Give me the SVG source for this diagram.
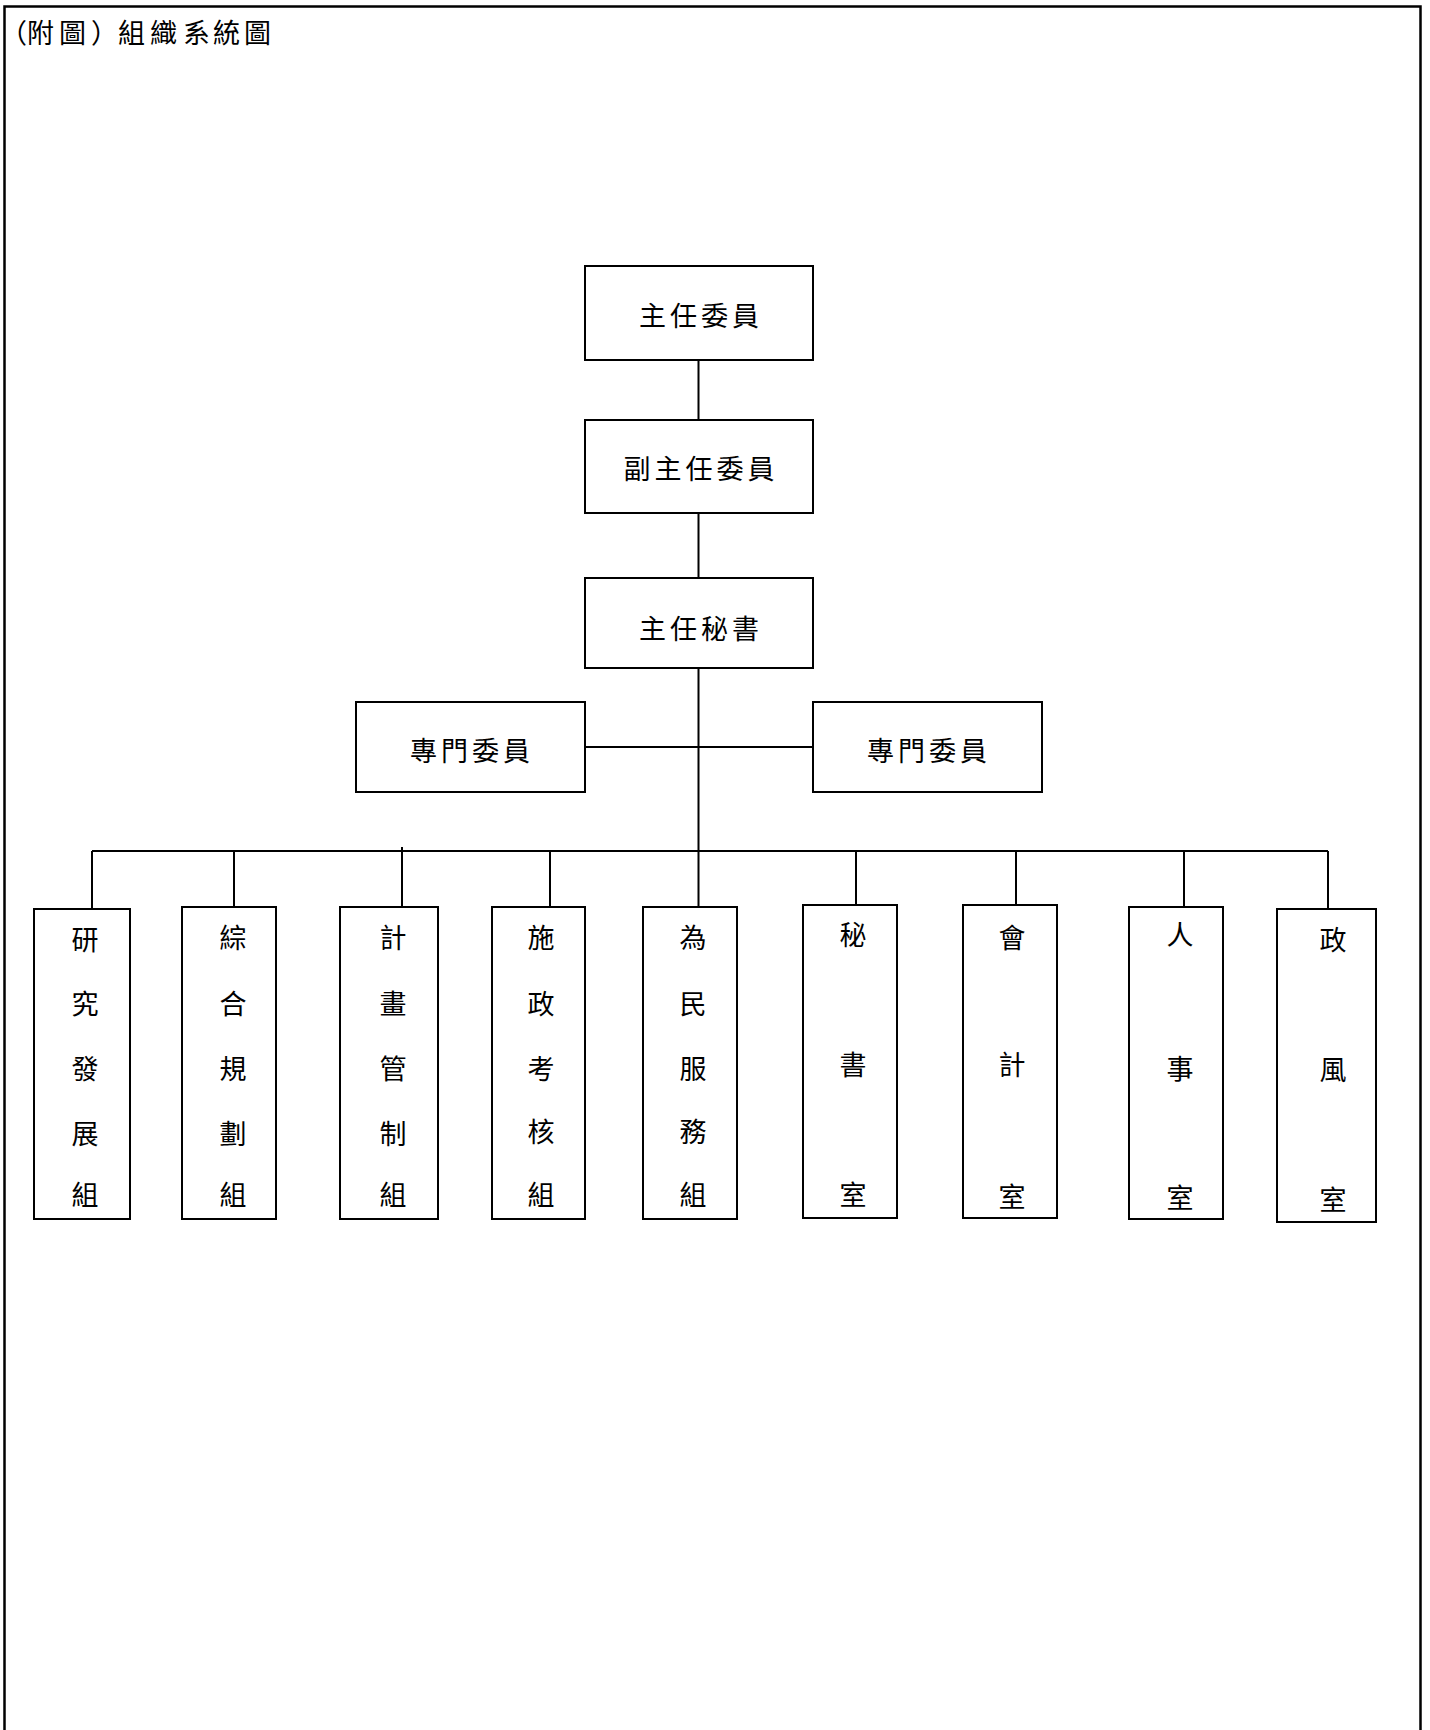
<svg xmlns="http://www.w3.org/2000/svg" width="1430" height="1730" viewBox="0 0 1430 1730">
<style>
.box{fill:#fff;stroke:#000;stroke-width:2}
.ln{fill:none;stroke:#000;stroke-width:2}
text{font-family:"Noto Sans CJK TC","Noto Sans CJK SC",sans-serif;font-size:27px;fill:#000;text-anchor:middle;dominant-baseline:central}
.h{letter-spacing:4px}
.t{text-anchor:start}
</style>
<rect x="0" y="0" width="1430" height="1730" fill="#fff"/>
<path class="ln" d="M4.5,1730 V6.5 H1420.5 V1730" style="stroke-width:2.5"/>
<text class="t" x="0 27 59 91 118 150 183 213 244" y="31">（附圖）組織系統圖</text>
<g id="connectors">
<path class="ln" d="M698.5,360 V420 M698.5,513 V578 M698.5,668 V907 M585,747 H813 M92,851 H1328"/>
<path class="ln" d="M92,851 V909 M234,851 V907 M402,847 V907 M550,851 V907 M856,851 V905 M1016,851 V905 M1184,851 V907 M1328,851 V909"/>
</g>
<g id="n1"><rect class="box" x="585" y="266" width="228" height="94"/><text class="h" x="701" y="314">主任委員</text></g>
<g id="n2"><rect class="box" x="585" y="420" width="228" height="93"/><text class="h" x="701" y="467">副主任委員</text></g>
<g id="n3"><rect class="box" x="585" y="578" width="228" height="90"/><text class="h" x="701" y="627">主任秘書</text></g>
<g id="n4"><rect class="box" x="356" y="702" width="229" height="90"/><text class="h" x="472" y="749">專門委員</text></g>
<g id="n5"><rect class="box" x="813" y="702" width="229" height="90"/><text class="h" x="929" y="749">專門委員</text></g>
<g id="c1"><rect class="box" x="34" y="909" width="96" height="310"/>
<text x="85" y="938">研</text><text x="85" y="1002">究</text><text x="85" y="1067">發</text><text x="85" y="1132">展</text><text x="85" y="1193">組</text></g>
<g id="c2"><rect class="box" x="182" y="907" width="94" height="312"/>
<text x="233" y="936">綜</text><text x="233" y="1002">合</text><text x="233" y="1067">規</text><text x="233" y="1132">劃</text><text x="233" y="1193">組</text></g>
<g id="c3"><rect class="box" x="340" y="907" width="98" height="312"/>
<text x="393" y="936">計</text><text x="393" y="1002">畫</text><text x="393" y="1067">管</text><text x="393" y="1132">制</text><text x="393" y="1193">組</text></g>
<g id="c4"><rect class="box" x="492" y="907" width="93" height="312"/>
<text x="541" y="936">施</text><text x="541" y="1002">政</text><text x="541" y="1067">考</text><text x="541" y="1130">核</text><text x="541" y="1193">組</text></g>
<g id="c5"><rect class="box" x="643" y="907" width="94" height="312"/>
<text x="693" y="936">為</text><text x="693" y="1002">民</text><text x="693" y="1067">服</text><text x="693" y="1130">務</text><text x="693" y="1193">組</text></g>
<g id="c6"><rect class="box" x="803" y="905" width="94" height="313"/>
<text x="853" y="933">秘</text><text x="853" y="1063">書</text><text x="853" y="1193">室</text></g>
<g id="c7"><rect class="box" x="963" y="905" width="94" height="313"/>
<text x="1012" y="936">會</text><text x="1012" y="1063">計</text><text x="1012" y="1195">室</text></g>
<g id="c8"><rect class="box" x="1129" y="907" width="94" height="312"/>
<text x="1180" y="933">人</text><text x="1180" y="1067">事</text><text x="1180" y="1196">室</text></g>
<g id="c9"><rect class="box" x="1277" y="909" width="99" height="313"/>
<text x="1333" y="938">政</text><text x="1333" y="1068">風</text><text x="1333" y="1198">室</text></g>
</svg>
